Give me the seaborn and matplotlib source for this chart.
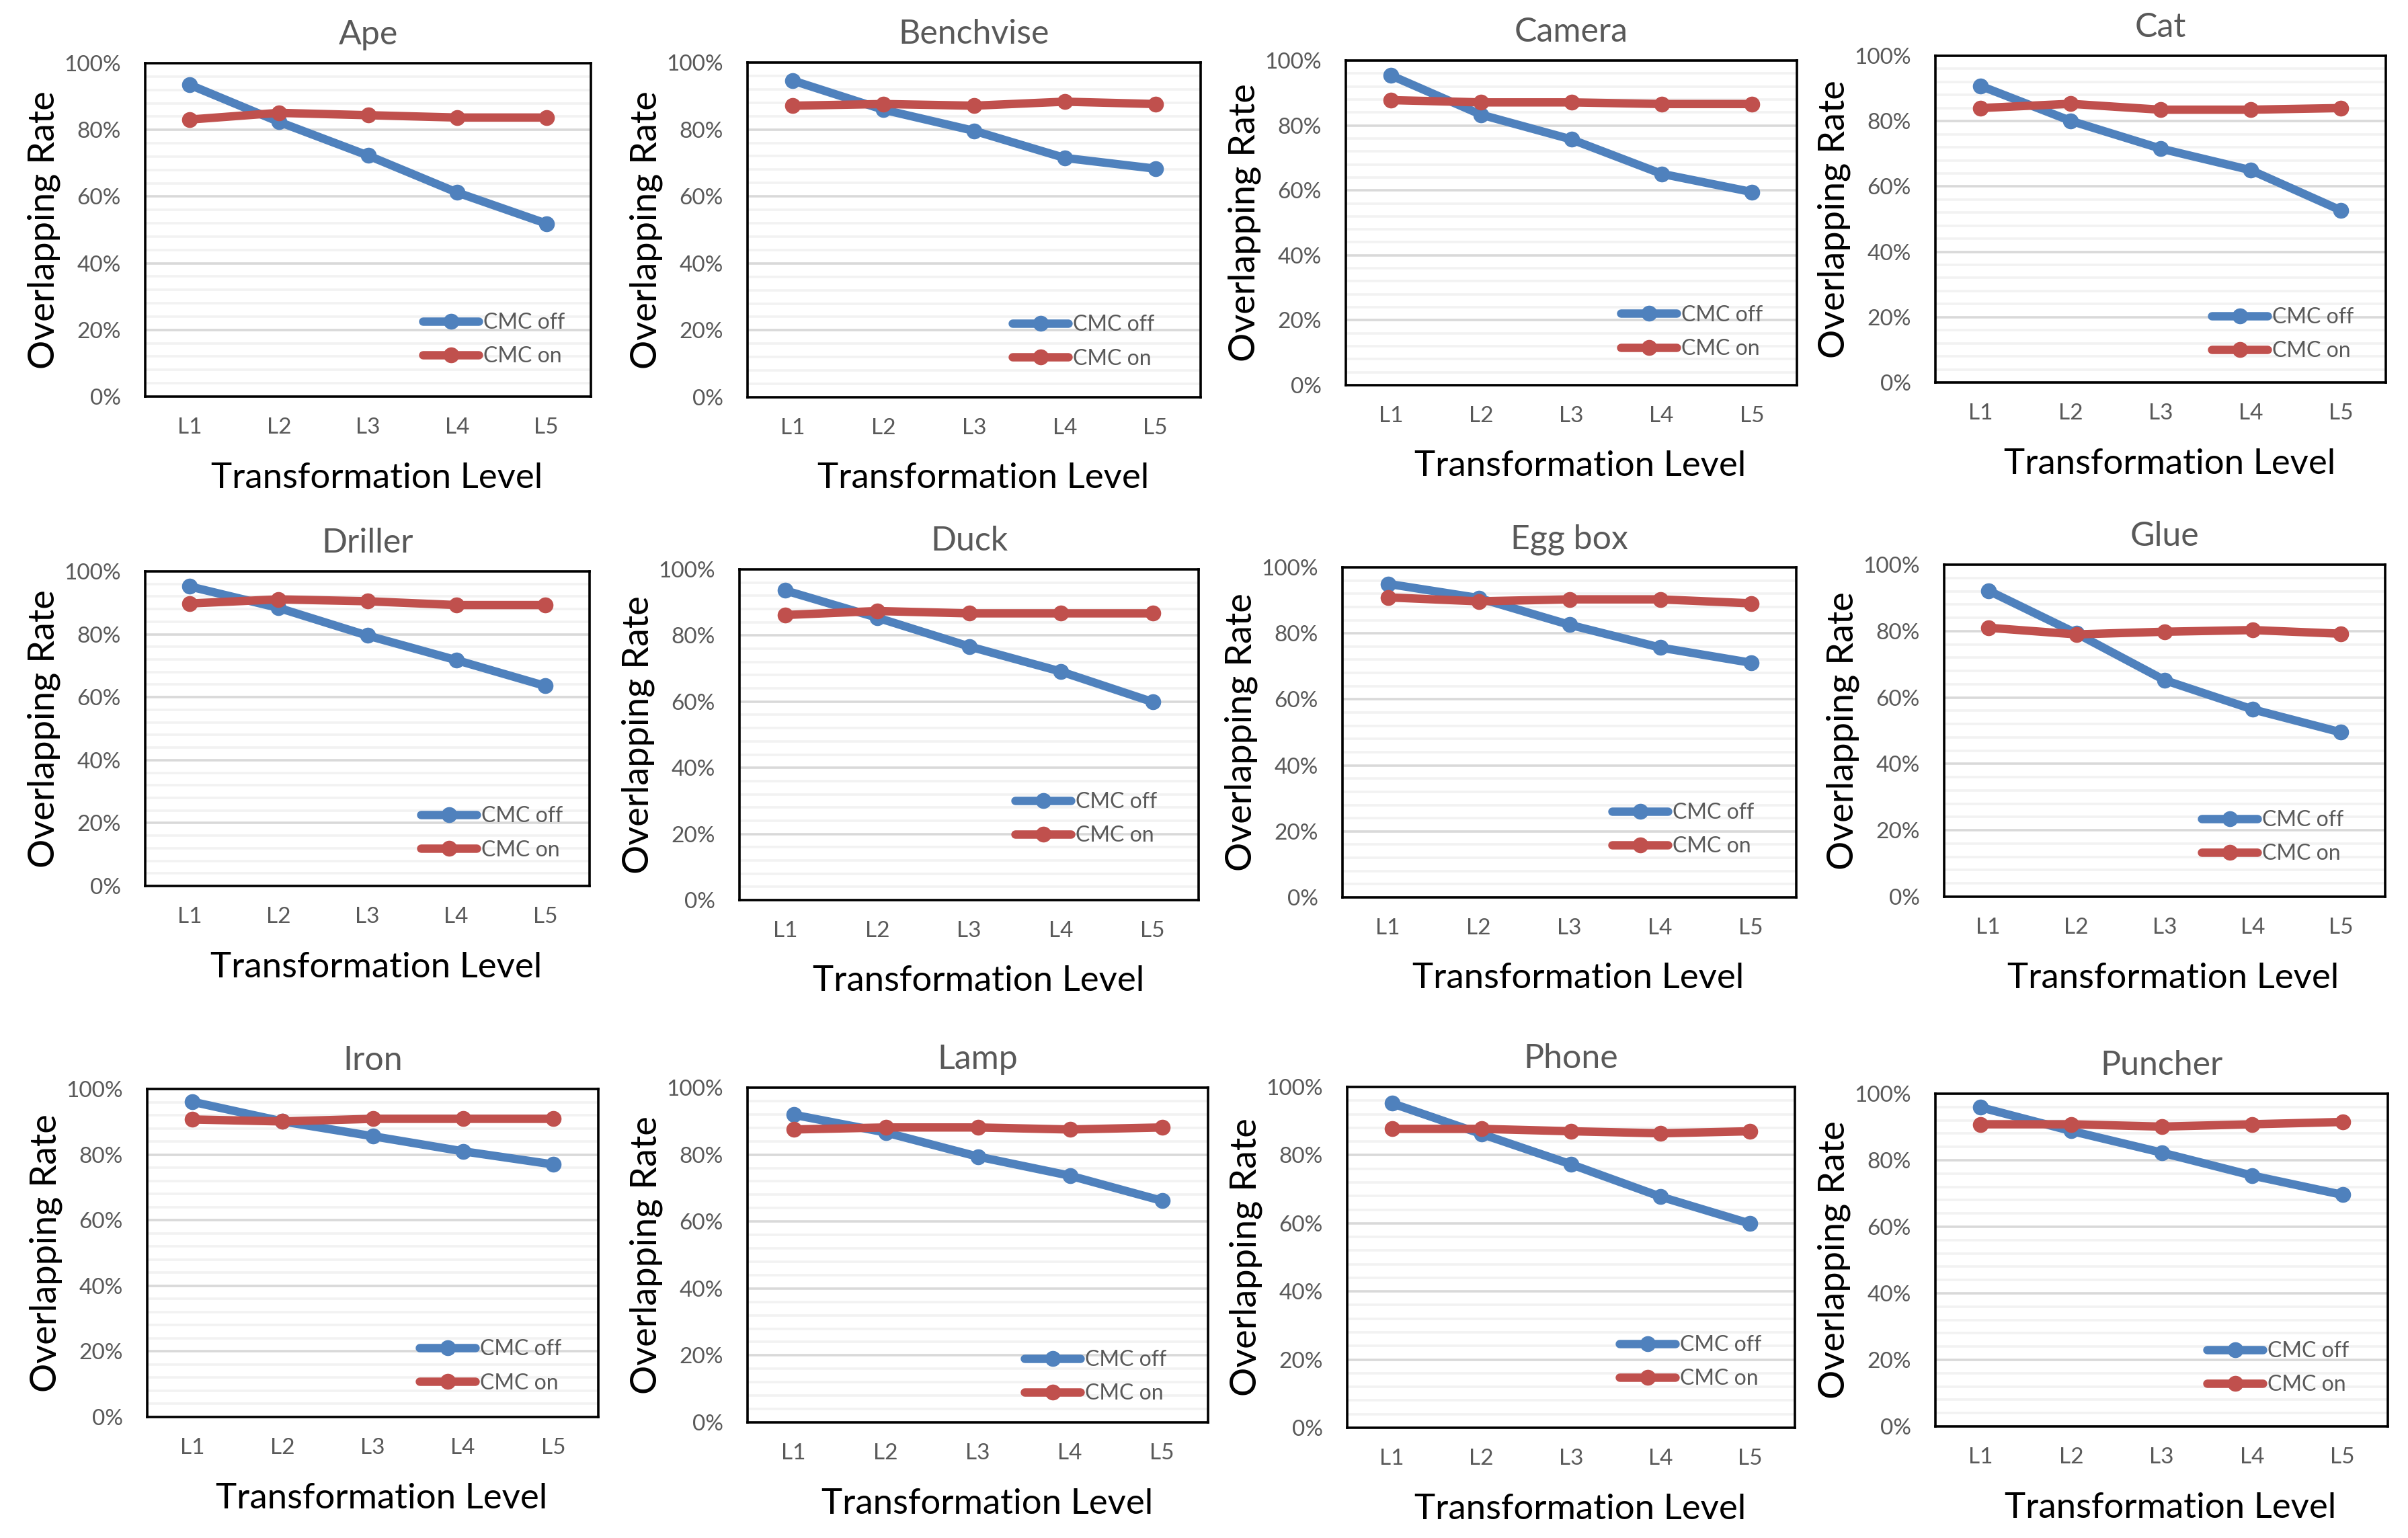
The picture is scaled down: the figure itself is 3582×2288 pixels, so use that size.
import numpy as np
import pandas as pd
import matplotlib
matplotlib.use("Agg")
import matplotlib.pyplot as plt
import seaborn as sns
from matplotlib.lines import Line2D
from matplotlib.ticker import MultipleLocator, PercentFormatter

# values (overlapping rate, %)
objects = ["Ape", "Benchvise", "Camera", "Cat",
           "Driller", "Duck", "Egg box", "Glue",
           "Iron", "Lamp", "Phone", "Puncher"]
levels = ["L1", "L2", "L3", "L4", "L5"]
series = ["CMC off", "CMC on"]

cmc_off = [
    [93.5, 82.4, 72.3, 61.2, 51.9],
    [94.6, 85.9, 79.6, 71.5, 68.3],
    [95.4, 83.3, 75.7, 65.1, 59.5],
    [90.8, 80.1, 71.6, 65.0, 52.7],
    [95.2, 88.4, 79.6, 71.8, 63.6],
    [93.6, 85.4, 76.7, 69.1, 59.9],
    [95.0, 90.7, 82.6, 75.7, 71.1],
    [92.2, 79.3, 65.2, 56.4, 49.5],
    [96.1, 90.1, 85.6, 81.0, 77.0],
    [91.9, 86.6, 79.4, 73.7, 66.2],
    [95.2, 86.2, 77.3, 67.8, 59.9],
    [95.9, 88.8, 82.3, 75.4, 69.6],
]
cmc_on = [
    [83.1, 85.1, 84.4, 83.7, 83.7],
    [87.1, 87.6, 87.1, 88.3, 87.6],
    [87.8, 87.1, 87.1, 86.6, 86.6],
    [84.0, 85.3, 83.5, 83.5, 84.0],
    [89.8, 91.1, 90.5, 89.3, 89.3],
    [86.2, 87.4, 86.7, 86.7, 86.7],
    [90.9, 89.7, 90.3, 90.3, 89.1],
    [81.0, 79.0, 79.8, 80.3, 79.2],
    [90.7, 90.1, 90.9, 90.9, 90.9],
    [87.5, 88.1, 88.1, 87.5, 88.1],
    [87.7, 87.7, 87.0, 86.4, 87.0],
    [90.8, 90.8, 90.1, 90.8, 91.5],
]

# panel layout in pixels: (left, top, right, bottom) of each plot area
axes_boxes = [
    (216, 94, 879, 590), (1112, 93, 1786, 591), (2002, 90, 2673, 573), (2879, 83, 3549, 569),
    (216, 850, 877, 1318), (1100, 847, 1783, 1339), (1997, 844, 2672, 1335), (2892, 840, 3548, 1334),
    (219, 1620, 890, 2108), (1112, 1618, 1797, 2116), (2004, 1617, 2670, 2124), (2879, 1627, 3552, 2122),
]
# legend: gap from right edge (px), height of first row (axes fraction)
legend_pos = [
    (39, 0.215), (69, 0.21), (51, 0.21), (48, 0.193),
    (40, 0.215), (62, 0.29), (63, 0.25), (62, 0.225),
    (55, 0.20), (62, 0.18), (50, 0.237), (58, 0.22),
]

rows = []
for obj, off, on in zip(objects, cmc_off, cmc_on):
    for lv, a, b in zip(levels, off, on):
        rows.append((obj, lv, "CMC off", a / 100))
        rows.append((obj, lv, "CMC on", b / 100))
df = pd.DataFrame(rows, columns=["object", "level", "series", "rate"])

colors = {"CMC off": "#4F81BD", "CMC on": "#C0504D"}

sns.set_style("white")
plt.rcParams["font.family"] = ["Lato", "DejaVu Sans"]

W, H, DPI = 3582, 2288, 200
fig = plt.figure(figsize=(W / DPI, H / DPI), dpi=DPI)

for i, obj in enumerate(objects):
    l, t, r, b = axes_boxes[i]
    wpx, hpx = r - l, b - t
    ax = fig.add_axes([l / W, 1 - b / H, wpx / W, hpx / H])
    sub = df[df["object"] == obj]
    sns.lineplot(data=sub, x="level", y="rate", hue="series", hue_order=series,
                 palette=colors, marker="o", markersize=8.5, markeredgewidth=0,
                 linewidth=4.5, sort=False, errorbar=None, legend=False, ax=ax)

    ax.set_xlim(-0.5, len(levels) - 0.5)
    ax.set_ylim(0, 1)
    ax.yaxis.set_major_locator(MultipleLocator(0.2))
    ax.yaxis.set_minor_locator(MultipleLocator(0.04))
    ax.yaxis.set_major_formatter(PercentFormatter(1.0, decimals=0))
    ax.set_axisbelow(True)
    ax.yaxis.grid(True, which="major", color="#D9D9D9", lw=1.3)
    ax.yaxis.grid(True, which="minor", color="#F2F2F2", lw=1.3)
    ax.xaxis.grid(False)

    ax.tick_params(axis="y", which="major", direction="in", length=4, width=1.2,
                   labelsize=12, labelcolor="#595959", pad=13)
    ax.tick_params(axis="y", which="minor", length=0)
    ax.tick_params(axis="x", length=0, labelsize=12, labelcolor="#595959", pad=11)
    for s in ax.spines.values():
        s.set_visible(True)
        s.set_color("black")
        s.set_linewidth(1.3)

    ax.set_title(obj, fontsize=18, color="#595959", pad=10)
    ax.set_ylabel("Overlapping Rate", fontsize=19.5, color="black")
    ax.yaxis.set_label_coords(-126 / wpx, 0.5)
    ax.set_xlabel("Transformation Level", fontsize=19, color="black", va="center")
    ax.xaxis.set_label_coords(0.52, -121 / hpx)

    gap, yrow = legend_pos[i]
    handles = [Line2D([], [], color=colors[s], lw=4.5, marker="o", markersize=8.5, mew=0)
               for s in series]
    ax.legend(handles, series, loc="upper right",
              bbox_to_anchor=(1 - gap / wpx, yrow + 18 / hpx),
              frameon=False, fontsize=11.5, labelcolor="#595959",
              handlelength=2.6, handletextpad=0.2, labelspacing=0.63,
              borderpad=0, borderaxespad=0)

fig.savefig("out.png", dpi=DPI, facecolor="white")
